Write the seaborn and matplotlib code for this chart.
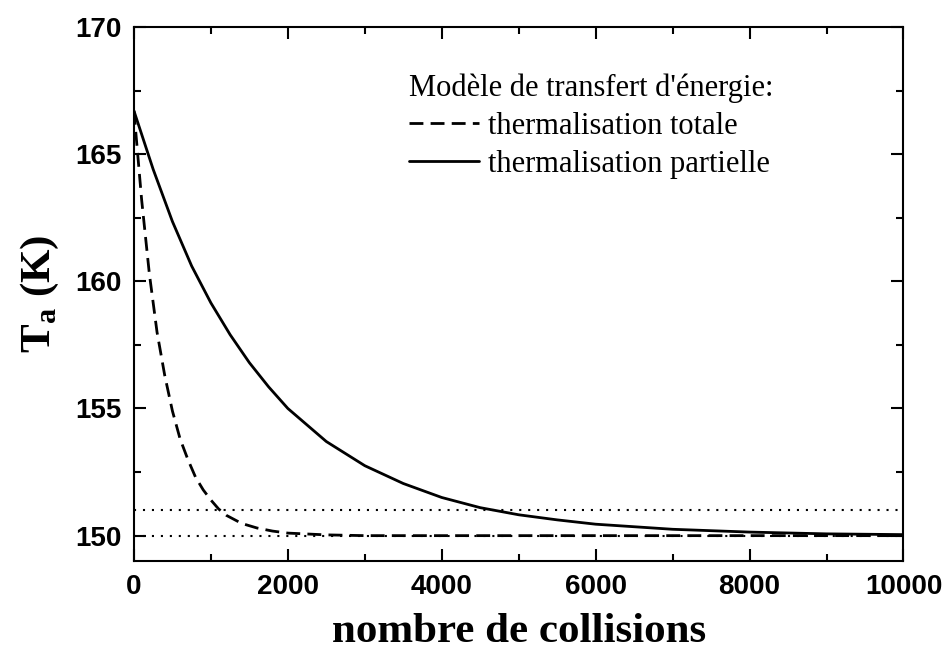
import numpy as np
import pandas as pd
import matplotlib
matplotlib.use('Agg')
import matplotlib.pyplot as plt
import seaborn as sns

# values
x_partielle = [0, 250, 500, 750, 1000, 1250, 1500, 1750, 2000, 2500, 3000, 3500,
               4000, 4500, 5000, 5500, 6000, 7000, 8000, 9000, 10000]
t_partielle = [166.7, 164.4, 162.35, 160.6, 159.15, 157.9, 156.8, 155.85, 155.0,
               153.7, 152.75, 152.05, 151.5, 151.1, 150.82, 150.62, 150.45,
               150.25, 150.14, 150.07, 150.04]

x_totale = [0, 100, 200, 300, 400, 500, 600, 700, 800, 900, 1000, 1100, 1200,
            1400, 1600, 1800, 2000, 2500, 3000, 10000]
t_totale = [166.7, 163.2, 160.3, 158.0, 156.3, 154.9, 153.8, 153.0, 152.3, 151.8,
            151.4, 151.05, 150.8, 150.48, 150.3, 150.18, 150.1, 150.03, 150.0, 150.0]

ref_levels = [150, 151]

x_ticks = [0, 2000, 4000, 6000, 8000, 10000]
y_ticks = [150, 155, 160, 165, 170]

sns.set_theme(style='ticks')
plt.rcParams['font.family'] = ['Liberation Sans', 'DejaVu Sans']
plt.rcParams['text.color'] = 'black'
plt.rcParams['axes.labelcolor'] = 'black'
plt.rcParams['xtick.color'] = 'black'
plt.rcParams['ytick.color'] = 'black'
plt.rcParams['mathtext.fontset'] = 'custom'
plt.rcParams['mathtext.bf'] = 'Liberation Serif:bold'
plt.rcParams['mathtext.rm'] = 'Liberation Serif:bold'

fig = plt.figure(figsize=(9.5, 6.57), dpi=100)
ax = fig.add_axes([0.141, 0.146, 0.81, 0.813])

df_tot = pd.DataFrame({'x': x_totale, 'T': t_totale})
df_par = pd.DataFrame({'x': x_partielle, 'T': t_partielle})

for lev in ref_levels:
    ax.axhline(lev, color='black', lw=1.5, linestyle=(0, (1, 3.3)), zorder=1)

sns.lineplot(data=df_tot, x='x', y='T', ax=ax, color='black', lw=2,
             label='thermalisation totale', zorder=3)
ax.lines[-1].set_linestyle((0, (5.0, 2.6)))
sns.lineplot(data=df_par, x='x', y='T', ax=ax, color='black', lw=2,
             label='thermalisation partielle', zorder=3)

ax.set_xlim(0, 10000)
ax.set_ylim(149, 170)
ax.set_xticks(x_ticks)
ax.set_yticks(y_ticks)
ax.set_xticks(np.arange(1000, 10000, 2000), minor=True)
ax.set_yticks(np.arange(152.5, 170, 5), minor=True)
ax.tick_params(which='both', direction='in', top=True, right=True, width=1.5,
               color='black', labelcolor='black')
ax.tick_params(which='major', length=8.5, pad=9, labelsize=20)
ax.tick_params(which='minor', length=5)
for lab in ax.get_xticklabels() + ax.get_yticklabels():
    lab.set_fontweight('bold')
for sp in ax.spines.values():
    sp.set_linewidth(1.5)
    sp.set_color('black')

ax.set_xlabel('nombre de collisions', family='Liberation Serif', fontweight='bold',
              fontsize=31, labelpad=10)
ax.set_ylabel(r'$\mathbf{T}_{\mathbf{a}}$ (K)', family='Liberation Serif',
              fontweight='bold', fontsize=31, labelpad=10)

leg = ax.legend(loc='upper left', bbox_to_anchor=(0.341, 0.936), frameon=False,
                title="Modèle de transfert d'énergie:", alignment='left',
                handlelength=2.3, handletextpad=0.3, borderaxespad=0,
                labelspacing=0.3,
                prop={'family': 'Liberation Serif', 'size': 22})
leg.get_title().set_fontfamily('Liberation Serif')
leg.get_title().set_fontsize(22)

fig.savefig('out.png', dpi=100)
